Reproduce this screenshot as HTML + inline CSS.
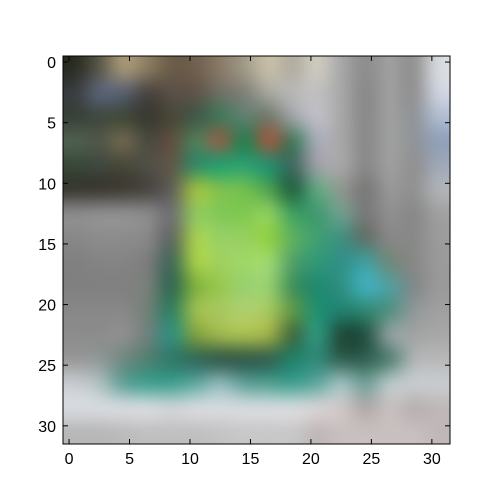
<!DOCTYPE html>
<html><head><style>
html,body{margin:0;padding:0;background:#fff;}
#wrap{position:relative;width:500px;height:500px;font-family:"Liberation Sans",sans-serif;}
canvas{position:absolute;left:63px;top:56px;width:387px;height:388px;}
svg{position:absolute;left:0;top:0;}
</style></head><body>
<div id="wrap">
<canvas id="img" width="387" height="388"></canvas>
<svg id="ax" width="500" height="500"></svg>
</div>
<script>
const xTicks=[0,5,10,15,20,25,30];
const yTicks=[0,5,10,15,20,25,30];
const gridRows=[
"#2a2c24 #5a5848 #a89878 #8a7c60 #6a5c48 #706050 #8a7a68 #a09a88 #c8c0a8 #b0aca0 #d0ccc0 #a8a8a8 #8c8c8c #a0a0a0 #909090 #d8dce0",
"#3a3e40 #5a6478 #586070 #4a4440 #5a5048 #605448 #707064 #808078 #a8a8a0 #b8b8b8 #c0c0c0 #a8a8a8 #888888 #a0a0a0 #909090 #d0d4e0",
"#384038 #404840 #404838 #383830 #484838 #405848 #407858 #608070 #707868 #a0a4a8 #c0c0c8 #a8a8a8 #888888 #a0a0a0 #909498 #b0bcd0",
"#506050 #505848 #706850 #4a4a40 #605040 #50805a #906048 #208050 #a05840 #407858 #a8acb8 #a8a8a8 #888888 #a0a0a0 #909498 #90a0b8",
"#384838 #404840 #484838 #505048 #605848 #308868 #20a070 #30a070 #209070 #406860 #a0a0a8 #a8a8a8 #888888 #a0a0a0 #909090 #a0a8b8",
"#383830 #3a3830 #403c34 #484440 #606058 #a0c040 #80c050 #70c050 #50a050 #206040 #60a880 #909890 #787878 #989898 #909090 #b0b4b8",
"#8c8c8c #909090 #909090 #8a8a8a #707070 #90c860 #80c858 #80c850 #90d060 #40a060 #409870 #70a090 #787878 #909090 #888888 #a0a0a0",
"#888888 #8c8c8c #8c8c8c #888888 #606860 #a8d050 #98d068 #98d060 #90d040 #60b060 #40a070 #409080 #607068 #888888 #888888 #9c9c9c",
"#808080 #848484 #848484 #7c7c7c #406858 #a8d048 #a0d060 #a0d868 #a0d870 #50a068 #309878 #309088 #40a0a0 #708878 #888888 #9a9a9a",
"#808080 #808080 #808080 #788078 #306850 #80b040 #98c850 #98d070 #98d070 #40905a #208870 #309080 #40b0c0 #50a0a0 #808888 #9a9a9a",
"#888888 #888888 #888888 #708078 #308060 #a0c050 #a8c860 #b0d070 #a8c860 #609848 #209070 #208070 #308870 #509080 #909898 #a0a0a0",
"#8c8c8c #8c8c8c #909090 #70807c #309080 #80a040 #a0b850 #a8c050 #a0b048 #406840 #309880 #204838 #205040 #90a0a0 #a0a4a4 #a8a8a8",
"#989898 #909898 #708880 #508070 #307868 #306858 #305848 #305848 #306050 #208068 #308878 #306050 #306050 #508070 #b0b4b4 #b8b8b8",
"#c8ccd0 #b0c0c0 #60a098 #40a090 #40a090 #60a8a0 #90b8b8 #60a098 #50a090 #40a090 #60a8a0 #a0c0c0 #70a098 #b8c8c8 #c8ccd0 #c8ccd0",
"#d8dce0 #d8dce0 #d8dce0 #d8dce0 #d0d4d8 #d8dce0 #d8dce0 #d8dce0 #d8dce0 #d8dce0 #d8d4d4 #d0c8c8 #b0a8a8 #c8c0c0 #b8b0b0 #c0b8b8",
"#b8b8b8 #b8b8b8 #bcbcbc #c0c0c0 #c0c0c0 #c0c0c0 #c4c4c4 #c8c8c8 #c8c8c8 #c8c8c8 #c0b8b8 #c8c0c0 #c8c0c0 #c8c0c0 #c8c0c0 #c0b8b8"
];
const n=gridRows.length;
const small=document.createElement('canvas');small.width=n;small.height=n;
const sc=small.getContext('2d');
gridRows.forEach((r,i)=>r.split(' ').forEach((c,j)=>{sc.fillStyle=c;sc.fillRect(j,i,1,1);}));
const ctx=document.getElementById('img').getContext('2d');
ctx.imageSmoothingEnabled=true;ctx.imageSmoothingQuality='high';
ctx.drawImage(small,0,0,387,388);
const L=63,T=56,W=387,H=388,NP=32;
const xs=v=>L+(v+0.5)*W/NP, ys=v=>T+(v+0.5)*H/NP;
const svg=document.getElementById('ax');const NS='http://www.w3.org/2000/svg';
function mk(t,a){const e=document.createElementNS(NS,t);for(const k in a)e.setAttribute(k,a[k]);svg.appendChild(e);return e;}
const fr=mk('rect',{x:L,y:T,width:W,height:H,fill:'none',stroke:'#000','stroke-width':1});


xTicks.forEach(v=>{const x=xs(v);
 const t1=mk('line',{x1:x,x2:x,y1:T+H,y2:T+H-5,stroke:'#000'});
 
 
 const t2=mk('line',{x1:x,x2:x,y1:T,y2:T+5,stroke:'#000'});
 
 
 const tx=mk('text',{x:x,y:T+H+20,'text-anchor':'middle','font-size':16,fill:'#000'});tx.textContent=v;
 
 
});
yTicks.forEach(v=>{const y=ys(v);
 const t1=mk('line',{x1:L,x2:L+5,y1:y,y2:y,stroke:'#000'});
 
 
 const t2=mk('line',{x1:L+W,x2:L+W-5,y1:y,y2:y,stroke:'#000'});
 
 
 const tx=mk('text',{x:L-7,y:y+6,'text-anchor':'end','font-size':16,fill:'#000'});tx.textContent=v;
 
 
});
</script>
</body></html>
